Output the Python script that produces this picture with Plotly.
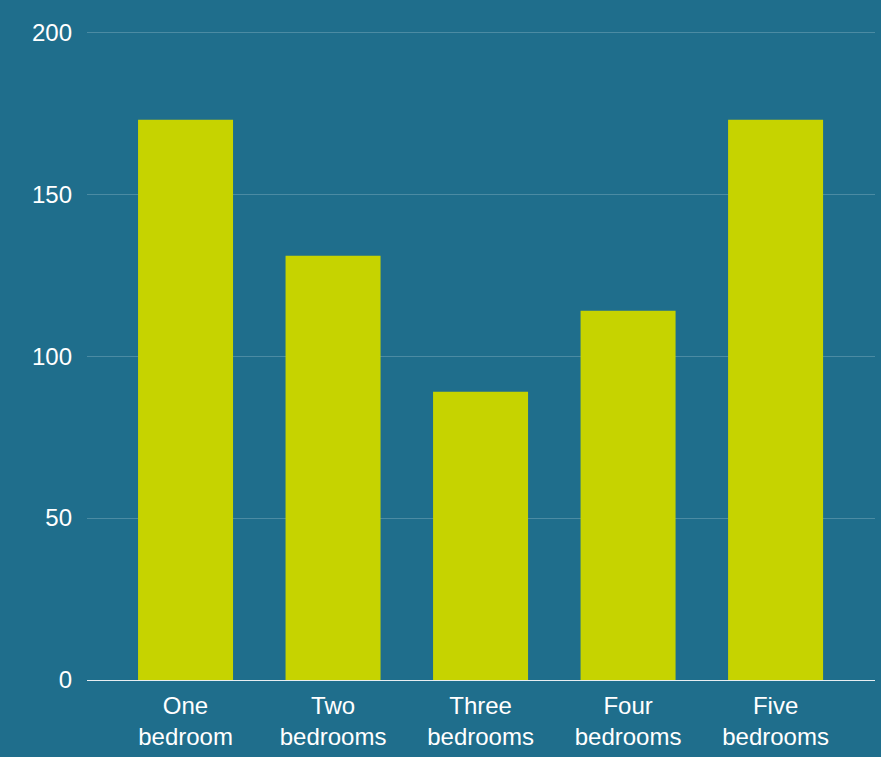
import plotly.graph_objects as go

categories = ["One<br>bedroom", "Two<br>bedrooms", "Three<br>bedrooms", "Four<br>bedrooms", "Five<br>bedrooms"]
values = [173, 131, 89, 114, 173]
y_ticks = [0, 50, 100, 150, 200]

BG = "#1F6E8C"
BAR = "#C6D300"

fig = go.Figure(go.Bar(x=list(range(len(categories))), y=values, marker=dict(color=BAR, line=dict(width=0)),
                       width=0.644))

fig.update_layout(
    width=881, height=757,
    margin=dict(l=87, r=6, t=29, b=77),
    paper_bgcolor=BG, plot_bgcolor=BG,
    font=dict(family="Liberation Sans, Arial, sans-serif", size=24, color="white"),
    showlegend=False,
)
fig.update_xaxes(
    tickmode="array", tickvals=list(range(len(categories))), ticktext=categories,
    range=[-0.668, 4.674], showgrid=False, zeroline=False,
    showline=True, linecolor="#E8EEF2", linewidth=1,
    ticks="", ticklabelstandoff=4,
)
fig.update_yaxes(
    range=[0, 201], tickvals=y_ticks, showgrid=True, gridcolor="rgba(255,255,255,0.2)", gridwidth=1,
    zeroline=False, showline=False, ticks="", ticklabelstandoff=14,
)
fig.write_html("out.html")
